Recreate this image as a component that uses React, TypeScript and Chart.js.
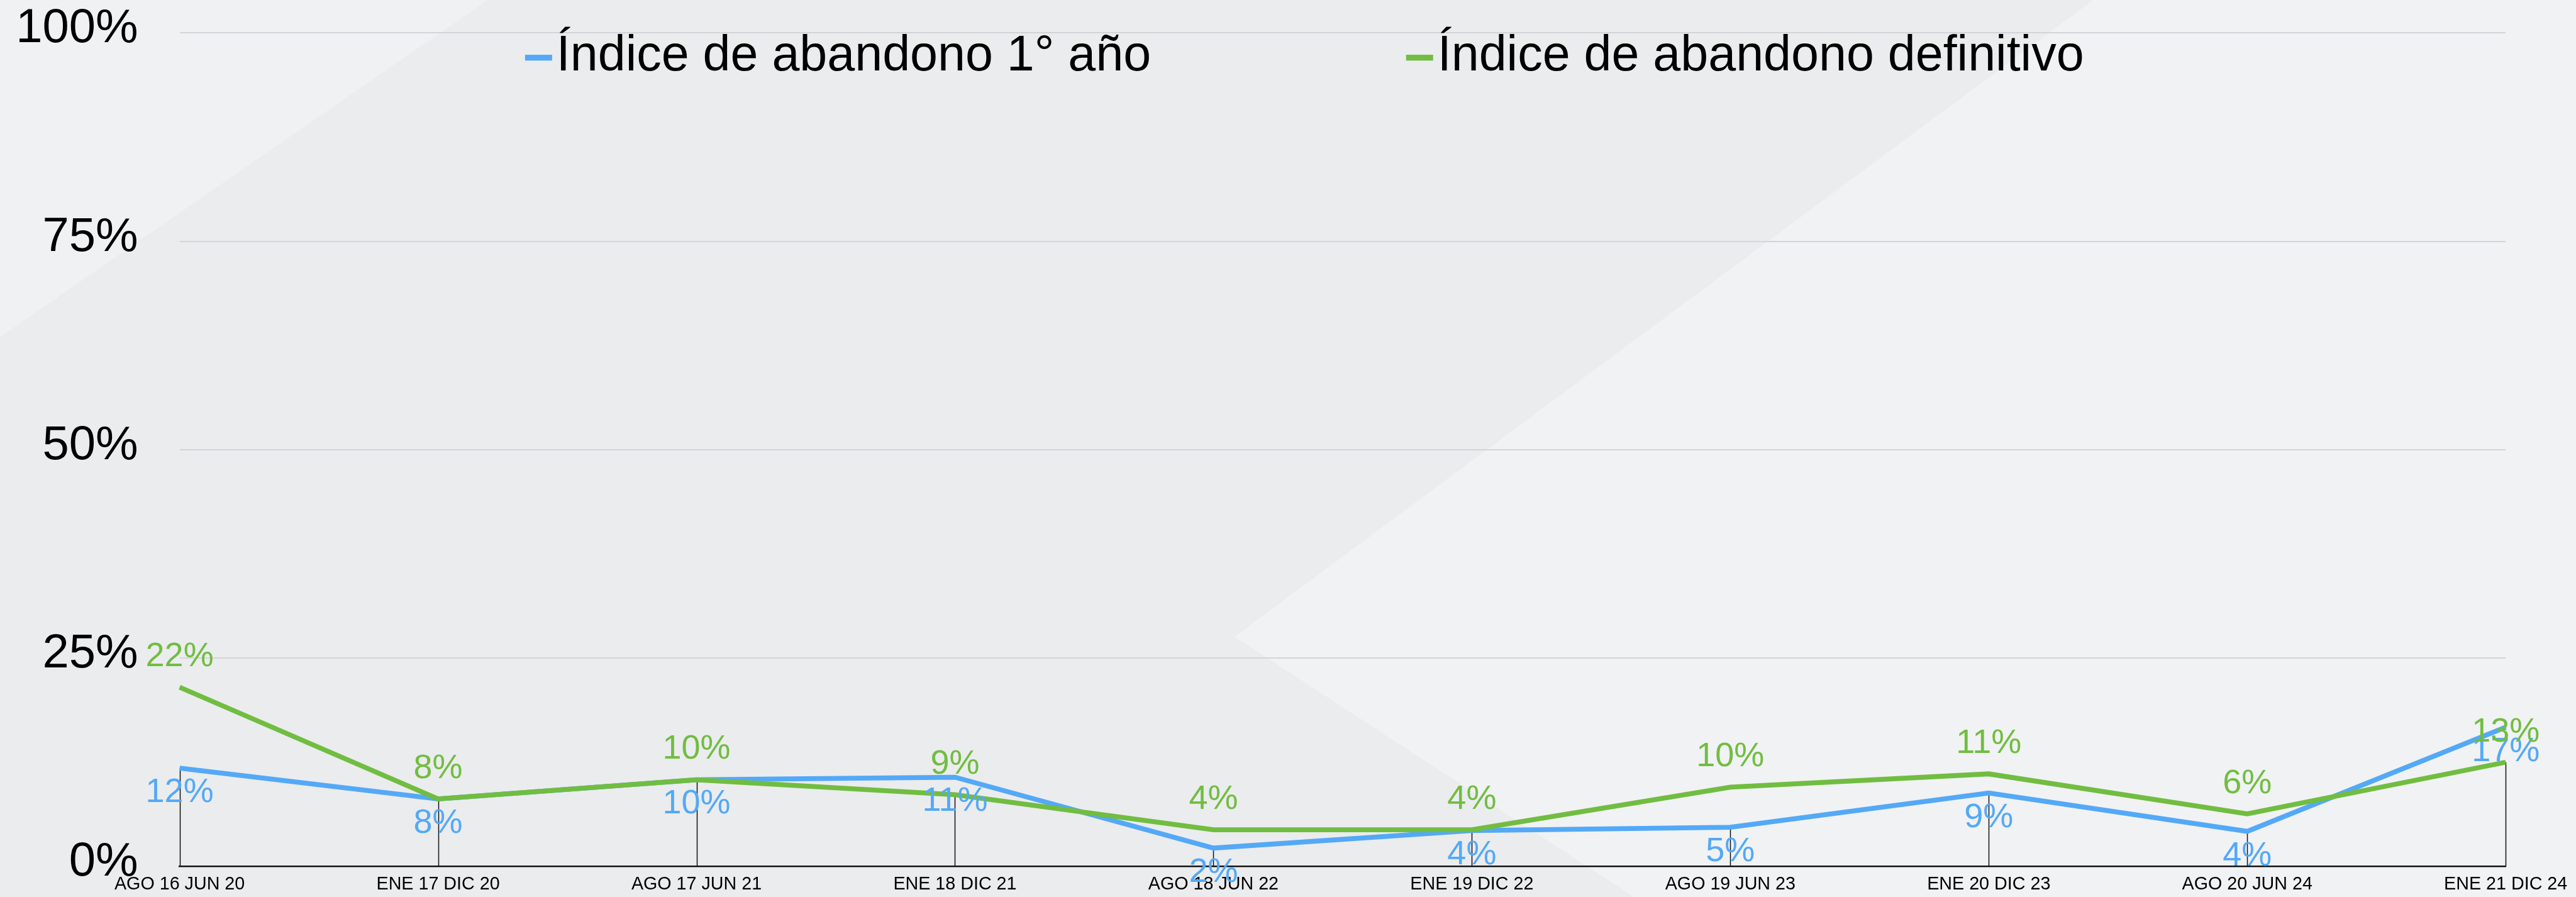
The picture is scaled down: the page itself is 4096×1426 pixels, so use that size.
import React, { useEffect, useRef } from 'react';
import { Chart, registerables } from 'chart.js';

Chart.register(...registerables);

// ---- data ----
const categories = [
  'AGO 16 JUN 20',
  'ENE 17 DIC 20',
  'AGO 17 JUN 21',
  'ENE 18 DIC 21',
  'AGO 18 JUN 22',
  'ENE 19 DIC 22',
  'AGO 19 JUN 23',
  'ENE 20 DIC 23',
  'AGO 20 JUN 24',
  'ENE 21 DIC 24',
];
const firstYearRate = [11.8, 8.1, 10.4, 10.7, 2.2, 4.3, 4.7, 8.8, 4.2, 16.7];
const definitiveRate = [21.5, 8.1, 10.4, 8.6, 4.4, 4.4, 9.5, 11.1, 6.3, 12.5];
const seriesNames = ['Índice de abandono 1° año', 'Índice de abandono definitivo'];
const yTickValues = [0, 25, 50, 75, 100];

// ---- style ----
const S = 0.845;
const W = 4096;
const H = 1426;
const BLUE = '#54A9F7';
const GREEN = '#71BD41';
const FONT = '"Liberation Sans", Arial, Helvetica, sans-serif';

const backgroundPlugin = {
  id: 'bgShapes',
  beforeDraw(chart: any) {
    const { ctx, width, height } = chart;
    ctx.save();
    ctx.fillStyle = '#EBECEE';
    ctx.fillRect(0, 0, width, height);
    ctx.fillStyle = '#EFF1F3';
    ctx.beginPath();
    ctx.moveTo(0, 0);
    ctx.lineTo(918 * S, 0);
    ctx.lineTo(0, 634 * S);
    ctx.closePath();
    ctx.fill();
    ctx.fillStyle = '#F1F2F4';
    ctx.beginPath();
    ctx.moveTo(3939 * S, 0);
    ctx.lineTo(width, 0);
    ctx.lineTo(width, height);
    ctx.lineTo(3075 * S, height);
    ctx.lineTo(2323 * S, 1198 * S);
    ctx.closePath();
    ctx.fill();
    ctx.restore();
  },
};

const dropLinePlugin = {
  id: 'dropLines',
  beforeDatasetsDraw(chart: any) {
    const { ctx } = chart;
    const xs = chart.scales.x;
    const ys = chart.scales.y;
    const a = chart.data.datasets[0].data as number[];
    const b = chart.data.datasets[1].data as number[];
    ctx.save();
    ctx.strokeStyle = '#111111';
    ctx.lineWidth = 1.5;
    for (let i = 0; i < a.length; i++) {
      const px = Math.round(xs.getPixelForValue(i)) + 0.5;
      const top = ys.getPixelForValue(Math.min(a[i], b[i]));
      const bottom = ys.getPixelForValue(0);
      ctx.beginPath();
      ctx.moveTo(px, bottom);
      ctx.lineTo(px, top);
      ctx.stroke();
    }
    ctx.restore();
  },
};

const labelShift = [39, -48]; // blue below, green above

const valueLabelPlugin = {
  id: 'valueLabels',
  afterDatasetsDraw(chart: any) {
    const { ctx } = chart;
    ctx.save();
    ctx.font = `54px ${FONT}`;
    ctx.textAlign = 'center';
    ctx.textBaseline = 'middle';
    chart.data.datasets.forEach((ds: any, di: number) => {
      const meta = chart.getDatasetMeta(di);
      ctx.fillStyle = ds.borderColor;
      meta.data.forEach((el: any, i: number) => {
        const v = ds.data[i] as number;
        ctx.fillText(Math.round(v) + '%', el.x, el.y + labelShift[di]);
      });
    });
    ctx.restore();
  },
};

const legendPlugin = {
  id: 'customLegend',
  afterDraw(chart: any) {
    const { ctx } = chart;
    ctx.save();
    ctx.font = `79px ${FONT}`;
    ctx.textAlign = 'left';
    ctx.textBaseline = 'alphabetic';
    let x = 988 * S;
    const baseline = 133 * S;
    const markW = 43;
    const markTop = 103 * S;
    const markH = 9.3;
    chart.data.datasets.forEach((ds: any) => {
      ctx.fillStyle = ds.borderColor;
      ctx.fillRect(x, markTop, markW, markH);
      x += markW + 7;
      ctx.fillStyle = '#000000';
      ctx.fillText(ds.label, x, baseline);
      x += ctx.measureText(ds.label).width + 405.6;
    });
    ctx.restore();
  },
};

export default function App() {
  const canvasRef = useRef<HTMLCanvasElement | null>(null);

  useEffect(() => {
    const canvas = canvasRef.current;
    if (!canvas) return;
    const chart = new Chart(canvas, {
      type: 'line',
      data: {
        labels: categories,
        datasets: [
          {
            label: seriesNames[0],
            data: firstYearRate,
            borderColor: BLUE,
            backgroundColor: BLUE,
            borderWidth: 7.8,
            pointRadius: 0,
            tension: 0,
            fill: false,
            order: 1,
          },
          {
            label: seriesNames[1],
            data: definitiveRate,
            borderColor: GREEN,
            backgroundColor: GREEN,
            borderWidth: 7.8,
            pointRadius: 0,
            tension: 0,
            fill: false,
            order: 0,
          },
        ],
      },
      options: {
        animation: false,
        responsive: false,
        devicePixelRatio: 1,
        layout: { padding: { left: 0, right: W - 4715 * S, top: 62 * S, bottom: 0 } },
        plugins: {
          legend: { display: false },
          tooltip: { enabled: false },
          title: { display: false },
        },
        scales: {
          x: {
            type: 'category',
            offset: false,
            grid: { display: false, drawTicks: false },
            border: { display: true, color: '#111111', width: 2.5 },
            ticks: {
              color: '#000000',
              font: { family: FONT, size: 28.7 },
              padding: 11.4,
              maxRotation: 0,
              minRotation: 0,
              autoSkip: false,
            },
            afterFit(scale: any) {
              scale.height = H - 1630 * S;
              scale.paddingLeft = 0;
              scale.paddingRight = 0;
            },
          },
          y: {
            min: 0,
            max: 100,
            afterBuildTicks(scale: any) {
              scale.ticks = yTickValues.map((v) => ({ value: v }));
            },
            grid: { color: '#D3D4D7', lineWidth: 2, drawTicks: false },
            border: { display: false },
            ticks: {
              color: '#000000',
              font: { family: FONT, size: 76 },
              padding: 338 * S - 260 * S,
              labelOffset: -6,
              callback: (v: any) => v + '%',
            },
            afterFit(scale: any) {
              scale.width = 338 * S;
              scale.paddingTop = 0;
              scale.paddingBottom = 0;
            },
          },
        },
      },
      plugins: [backgroundPlugin, dropLinePlugin, valueLabelPlugin, legendPlugin],
    });
    return () => chart.destroy();
  }, []);

  return (
    <div style={{ position: 'fixed', left: 0, top: 0, width: W, height: H, overflow: 'hidden' }}>
      <canvas ref={canvasRef} width={W} height={H} style={{ display: 'block', width: W, height: H }} />
    </div>
  );
}
